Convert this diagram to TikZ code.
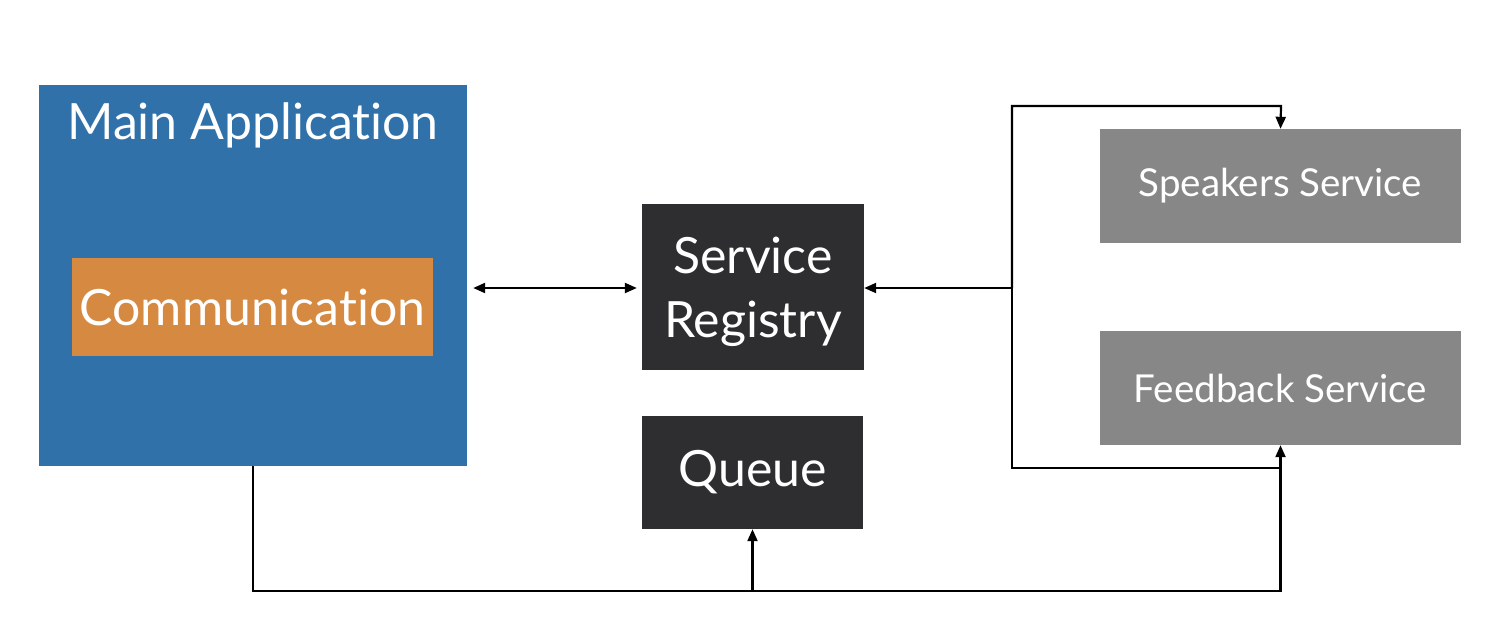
\documentclass[tikz,border=0pt]{standalone}
\usepackage{fontspec}
\setmainfont{Lato}[Ligatures={NoCommon}]
\usetikzlibrary{arrows.meta}
\definecolor{mainblue}{HTML}{3171AA}
\definecolor{commorange}{HTML}{D68941}
\definecolor{darkbox}{HTML}{2E2E30}
\definecolor{graybox}{HTML}{878787}
\tikzset{
  box/.style={draw=none, inner sep=0pt, text=white, align=center},
  bigtext/.style={font=\fontsize{50}{64}\selectfont},
  smalltext/.style={font=\fontsize{38.5}{46}\selectfont},
  conn/.style={line width=2.2pt, draw=black},
  tip/.style={-{Triangle[length=12pt,width=10pt]}},
  bitip/.style={{Triangle[length=12pt,width=10pt]}-{Triangle[length=12pt,width=10pt]}},
}
\begin{document}
\begin{tikzpicture}[x=1pt,y=-1pt]
\useasboundingbox (0,0) rectangle (1506,635);
% boxes
\node[box, fill=mainblue, minimum width=428pt, minimum height=381pt] (main) at (253,275.5) {};
\node[box, bigtext, anchor=base] (mainlabel) at (253,139) {Main Application};
\node[box, bigtext, fill=commorange, minimum width=361pt, minimum height=98pt] (comm) at (252.5,307) {Communication};
\node[box, fill=darkbox, minimum width=222pt, minimum height=166pt] (reg) at (753,287) {};
\node[box, bigtext, yshift=-5pt] (reglabel) at (reg.center) {Service\\Registry};
\node[box, bigtext, fill=darkbox, minimum width=221pt, minimum height=113pt] (queue) at (752.5,472.5) {Queue};
\node[box, smalltext, fill=graybox, minimum width=361pt, minimum height=114pt] (speak) at (1280.5,186) {Speakers Service};
\node[box, smalltext, fill=graybox, minimum width=361pt, minimum height=114pt] (feed) at (1280.5,388) {Feedback Service};
% connector coordinates
\coordinate (split) at (1012,288);
\coordinate (bus) at (253,591);
% connectors
\draw[conn, bitip, shorten >=5pt, shorten <=6pt] (main.east |- split) -- (reg.west |- split);
\draw[conn, tip] (split) -- (reg.east |- split);
\draw[conn, tip] (split) |- (1281,106) -- (speak.north);
\draw[conn] (split) |- (1281,468);
\draw[conn, tip] (main.south) -- (bus) -| (feed.south);
\draw[conn, tip] (queue.south |- bus) -- (queue.south);
\end{tikzpicture}
\end{document}
